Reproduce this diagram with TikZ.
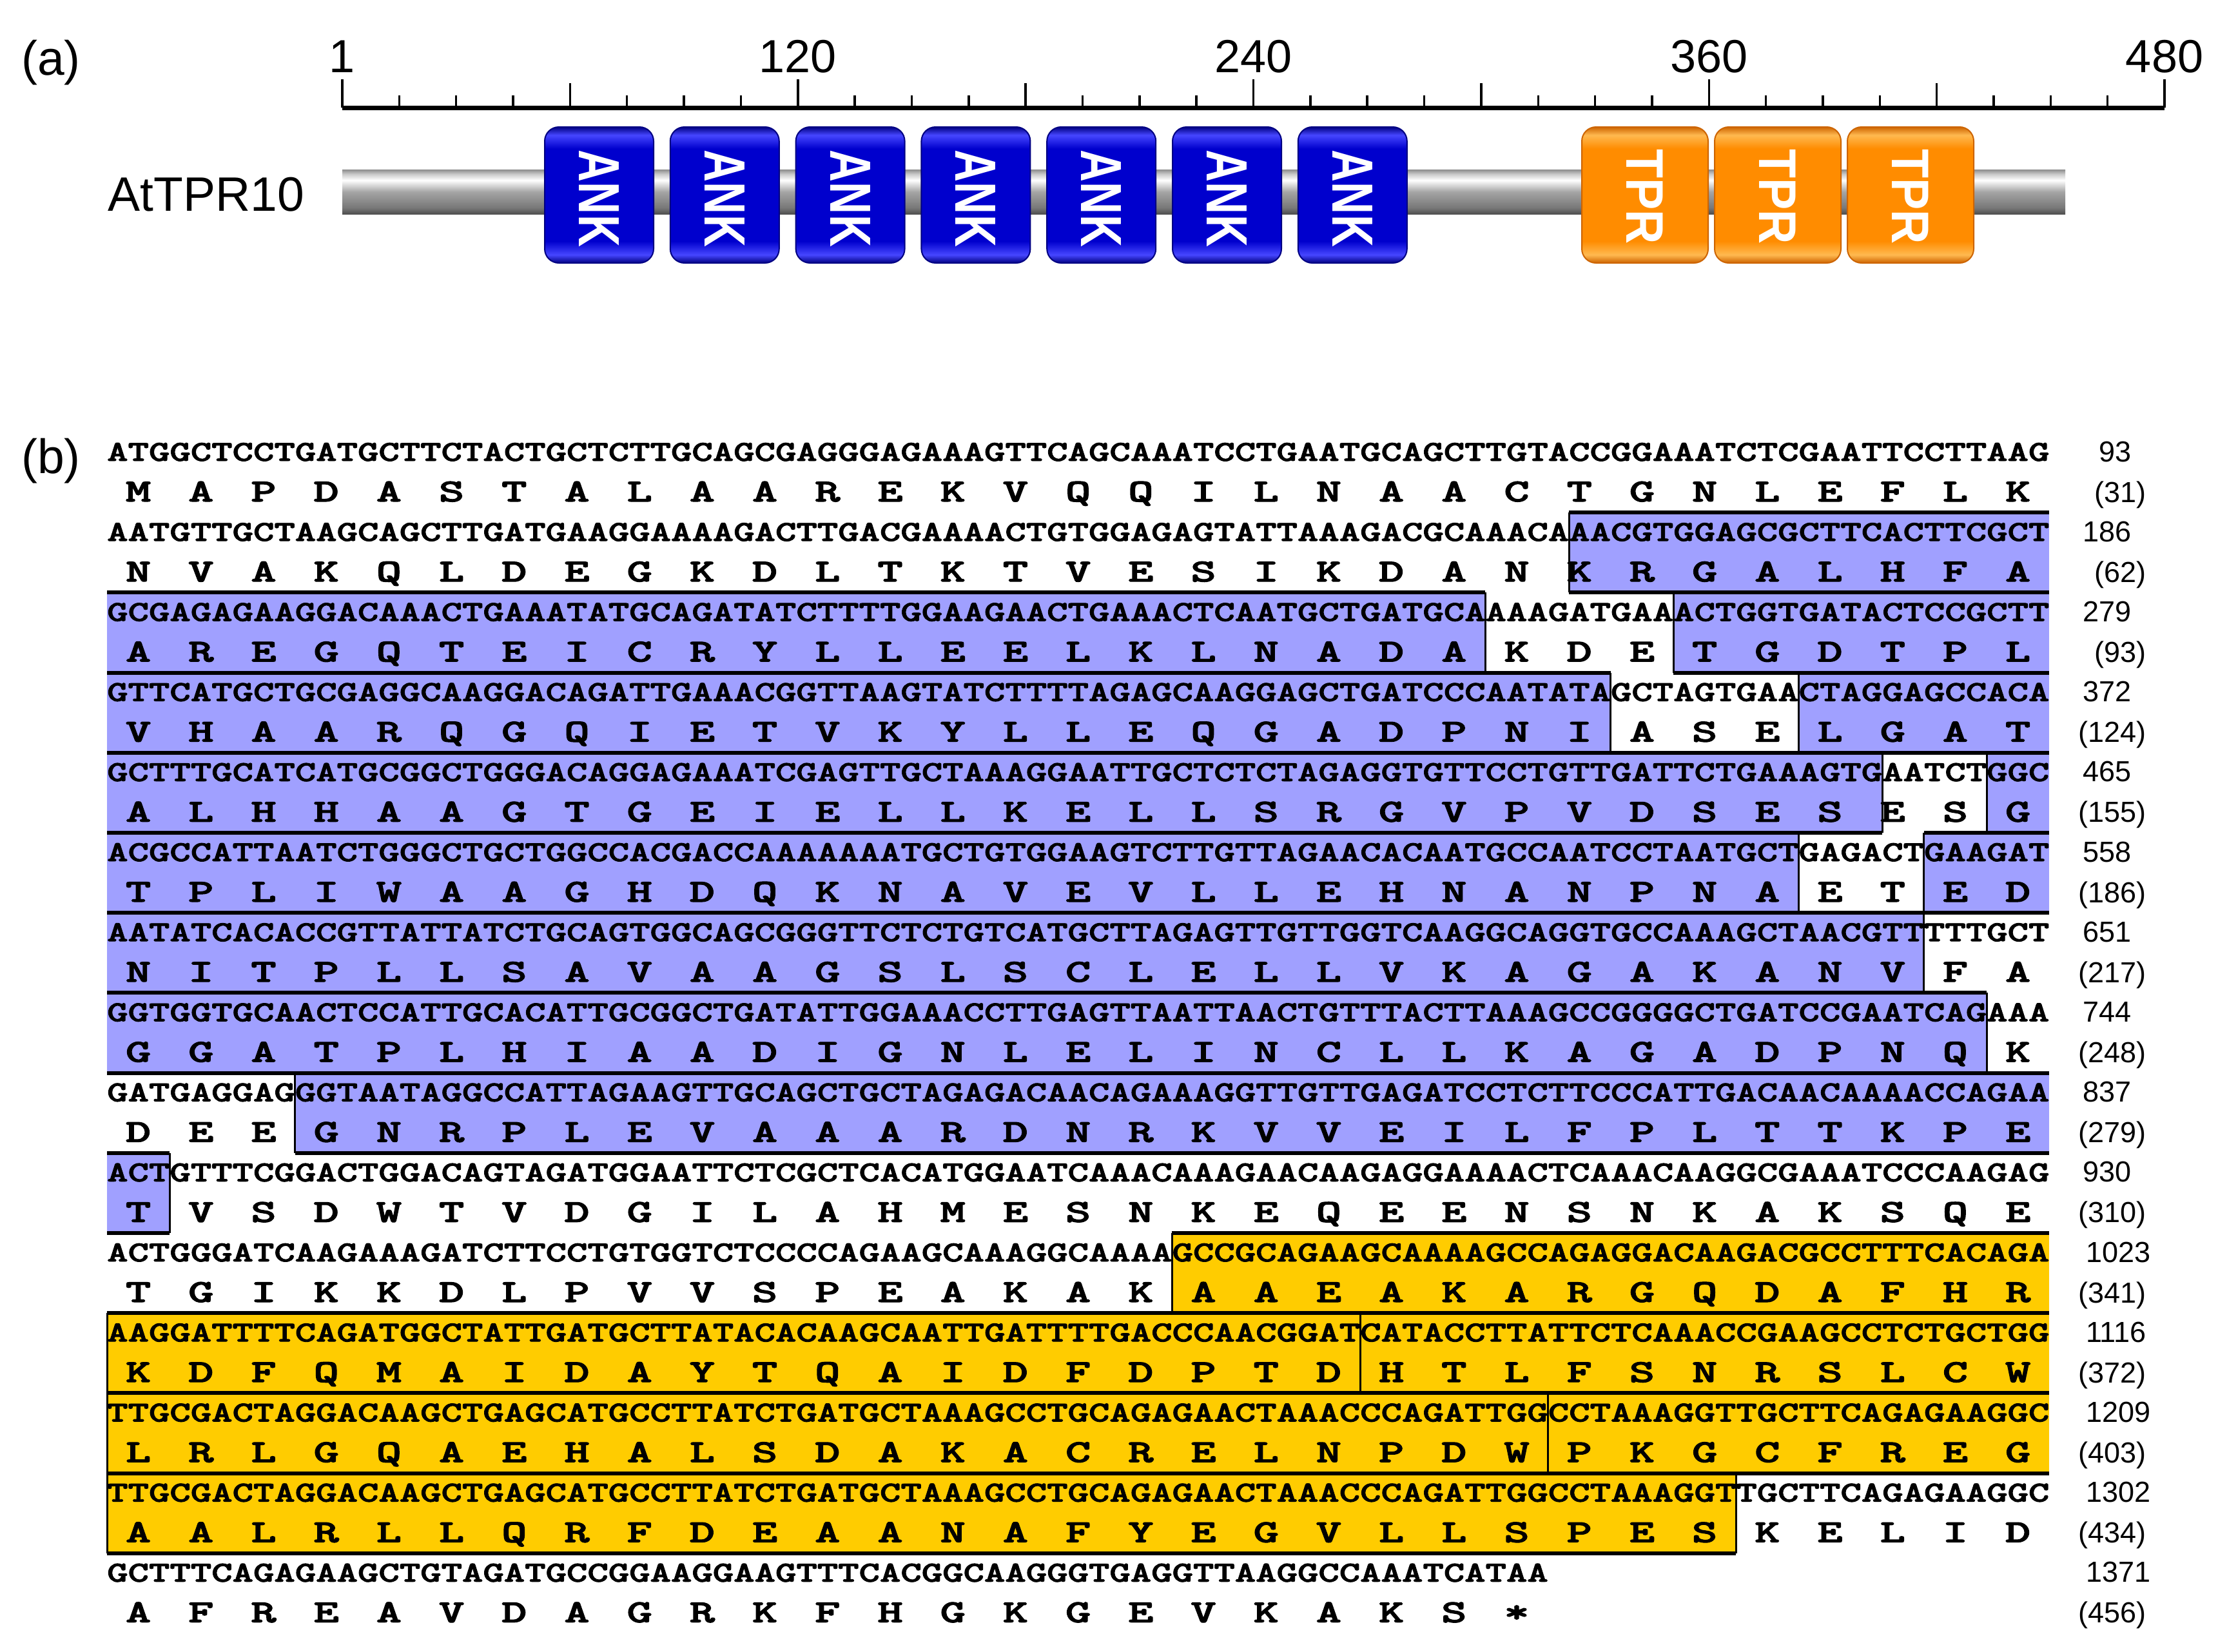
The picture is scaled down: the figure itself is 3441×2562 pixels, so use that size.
\documentclass[tikz,border=0pt]{standalone}
\usepackage{fontspec}
\setmainfont{Liberation Sans}
\newfontfamily\seqfont{lmmonolt10-bold}[Extension=.otf, FakeBold=2]
\usepackage{graphicx}
\definecolor{ankfill}{RGB}{160,160,255}
\definecolor{tprfill}{RGB}{255,204,0}
\definecolor{ankmain}{RGB}{0,0,205}
\definecolor{ankhi}{RGB}{70,70,255}
\definecolor{ankdk}{RGB}{0,0,130}
\definecolor{tprmain}{RGB}{255,140,0}
\definecolor{tprhi}{RGB}{255,185,80}
\definecolor{tprdk}{RGB}{205,100,0}
\definecolor{barA}{RGB}{80,80,80}
\definecolor{barB}{RGB}{120,120,120}
\definecolor{barC}{RGB}{165,165,165}
\definecolor{barD}{RGB}{200,200,200}
\definecolor{barE}{RGB}{140,140,140}
\pgfdeclareverticalshading{barshade}{100bp}{color(0bp)=(barA); color(25bp)=(barA); color(32bp)=(barB); color(50bp)=(barC); color(63bp)=(white); color(70bp)=(barD); color(75bp)=(barE); color(100bp)=(barE)}
\pgfdeclareverticalshading{ankshade}{100bp}{color(0bp)=(ankdk); color(25bp)=(ankdk); color(28bp)=(ankhi); color(33bp)=(ankmain); color(67bp)=(ankmain); color(72bp)=(ankhi); color(75bp)=(ankdk); color(100bp)=(ankdk)}
\pgfdeclareverticalshading{tprshade}{100bp}{color(0bp)=(tprdk); color(25bp)=(tprdk); color(28bp)=(tprhi); color(33bp)=(tprmain); color(67bp)=(tprmain); color(72bp)=(tprhi); color(75bp)=(tprdk); color(100bp)=(tprdk)}
\begin{document}
\begin{tikzpicture}[x=1pt,y=-1pt,
  panel/.style={inner sep=0pt, font=\fontsize{75}{80}\selectfont},
  rulab/.style={inner sep=0pt, anchor=base, font=\fontsize{72}{80}\selectfont},
  rulertick/.style={line width=3.5pt},
  ankbox/.style={shade, shading=ankshade, draw=ankdk, line width=2pt, rounded corners=22pt, minimum width=169pt, minimum height=211pt, inner sep=0pt},
  tprbox/.style={shade, shading=tprshade, draw=tprdk, line width=2pt, rounded corners=22pt, minimum width=196pt, minimum height=211pt, inner sep=0pt},
  boxtext/.style={rotate=-90, text=white, inner sep=0pt, font=\bfseries\fontsize{90}{90}\selectfont},
  ntrow/.style={anchor=base west, inner sep=0pt, font=\seqfont},
  aarow/.style={anchor=base, inner sep=0pt, font=\seqfont\fontsize{50}{50}\selectfont},
  numlab/.style={inner sep=0pt, font=\fontsize{45}{45}\selectfont},
  hline/.style={line width=6pt},
  vline/.style={line width=3pt}
]
\fill[white] (0,0) rectangle (3441,2562);
\useasboundingbox (0,0) rectangle (3441,2562);

% ---------------- (a) ----------------
\node[panel, anchor=west] (la) at (33,97) {(a)};
\node[panel] (pname) at (320,302) {AtTPR10};

% ruler
\draw[line width=7pt] (531,167) -- (3358,167);
\foreach \u in {0,15,...,480} \draw[rulertick] ({531+5.8896*\u},167) -- ({531+5.8896*\u},148);
\foreach \u in {60,180,300,420} \draw[rulertick] ({531+5.8896*\u},167) -- ({531+5.8896*\u},129);
\foreach \u/\t in {0/1,120/120,240/240,360/360,480/480} {
  \draw[rulertick] ({531+5.8896*\u},167) -- ({531+5.8896*\u},123);
  \node[rulab] (r\u) at ({531+5.8896*\u},112) {\t};
}

% backbone
\shade[shading=barshade] (531,263) rectangle (3204,332);

% ANK domains
\foreach \i in {0,...,6} {
  \node[ankbox] (ank\i) at ({929.5+194.8*\i},302.5) {};
  \node[boxtext] (ankt\i) at ({929.5+194.8*\i},308) {\scalebox{0.77}[1]{ANK}};
}
% TPR domains
\foreach \i/\xx in {0/2552,1/2758,2/2964} {
  \node[tprbox] (tpr\i) at (\xx,302.5) {};
  \node[boxtext, font=\bfseries\fontsize{82}{82}\selectfont] (tprt\i) at (\xx,305) {\scalebox{0.9}[1]{TPR}};
}

% ---------------- (b) ----------------
\node[panel, anchor=west] (lb) at (33,715) {(b)};

\def\seglist{1/70/93/ankfill,2/0/66/ankfill,2/75/93/ankfill,3/0/72/ankfill,3/81/93/ankfill,4/0/85/ankfill,4/90/93/ankfill,5/0/81/ankfill,5/87/93/ankfill,6/0/87/ankfill,7/0/90/ankfill,8/9/93/ankfill,9/0/3/ankfill,10/51/93/tprfill,11/0/60/tprfill,11/60/93/tprfill,12/0/69/tprfill,12/69/93/tprfill,13/0/78/tprfill}
\foreach \k/\na/\nb/\col in \seglist
  \fill[fill=\col] ({166+32.4*\na},{671+124.2*\k}) rectangle ({166+32.4*\nb},{795.2+124.2*\k});
\foreach \k/\na/\nb/\col in \seglist {
  \draw[hline] ({166+32.4*\na},{671+124.2*\k}) -- ({166+32.4*\nb},{671+124.2*\k});
  \draw[hline] ({166+32.4*\na},{795.2+124.2*\k}) -- ({166+32.4*\nb},{795.2+124.2*\k});
}
\foreach \k/\n in {1/70,2/66,2/75,3/72,3/81,4/85,4/90,5/81,5/87,6/87,7/90,8/9,9/3,10/51,11/60,12/69,13/78,11/0,12/0,13/0}
  \draw[vline] ({166+32.4*\n},{671+124.2*\k}) -- ({166+32.4*\n},{795.2+124.2*\k});

% nucleotide rows
\foreach \k/\s/\w in {
0/ATGGCTCCTGATGCTTCTACTGCTCTTGCAGCGAGGGAGAAAGTTCAGCAAATCCTGAATGCAGCTTGTACCGGAAATCTCGAATTCCTTAAG/3013.2pt,
1/AATGTTGCTAAGCAGCTTGATGAAGGAAAAGACTTGACGAAAACTGTGGAGAGTATTAAAGACGCAAACAAACGTGGAGCGCTTCACTTCGCT/3013.2pt,
2/GCGAGAGAAGGACAAACTGAAATATGCAGATATCTTTTGGAAGAACTGAAACTCAATGCTGATGCAAAAGATGAAACTGGTGATACTCCGCTT/3013.2pt,
3/GTTCATGCTGCGAGGCAAGGACAGATTGAAACGGTTAAGTATCTTTTAGAGCAAGGAGCTGATCCCAATATAGCTAGTGAACTAGGAGCCACA/3013.2pt,
4/GCTTTGCATCATGCGGCTGGGACAGGAGAAATCGAGTTGCTAAAGGAATTGCTCTCTAGAGGTGTTCCTGTTGATTCTGAAAGTGAATCTGGC/3013.2pt,
5/ACGCCATTAATCTGGGCTGCTGGCCACGACCAAAAAAATGCTGTGGAAGTCTTGTTAGAACACAATGCCAATCCTAATGCTGAGACTGAAGAT/3013.2pt,
6/AATATCACACCGTTATTATCTGCAGTGGCAGCGGGTTCTCTGTCATGCTTAGAGTTGTTGGTCAAGGCAGGTGCCAAAGCTAACGTTTTTGCT/3013.2pt,
7/GGTGGTGCAACTCCATTGCACATTGCGGCTGATATTGGAAACCTTGAGTTAATTAACTGTTTACTTAAAGCCGGGGCTGATCCGAATCAGAAA/3013.2pt,
8/GATGAGGAGGGTAATAGGCCATTAGAAGTTGCAGCTGCTAGAGACAACAGAAAGGTTGTTGAGATCCTCTTCCCATTGACAACAAAACCAGAA/3013.2pt,
9/ACTGTTTCGGACTGGACAGTAGATGGAATTCTCGCTCACATGGAATCAAACAAAGAACAAGAGGAAAACTCAAACAAGGCGAAATCCCAAGAG/3013.2pt,
10/ACTGGGATCAAGAAAGATCTTCCTGTGGTCTCCCCAGAAGCAAAGGCAAAAGCCGCAGAAGCAAAAGCCAGAGGACAAGACGCCTTTCACAGA/3013.2pt,
11/AAGGATTTTCAGATGGCTATTGATGCTTATACACAAGCAATTGATTTTGACCCAACGGATCATACCTTATTCTCAAACCGAAGCCTCTGCTGG/3013.2pt,
12/TTGCGACTAGGACAAGCTGAGCATGCCTTATCTGATGCTAAAGCCTGCAGAGAACTAAACCCAGATTGGCCTAAAGGTTGCTTCAGAGAAGGC/3013.2pt,
13/TTGCGACTAGGACAAGCTGAGCATGCCTTATCTGATGCTAAAGCCTGCAGAGAACTAAACCCAGATTGGCCTAAAGGTTGCTTCAGAGAAGGC/3013.2pt,
14/GCTTTCAGAGAAGCTGTAGATGCCGGAAGGAAGTTTCACGGCAAGGGTGAGGTTAAGGCCAAATCATAA/2235.6pt}
  \node[ntrow] (nt\k) at (166,{715+124.2*\k}) {\resizebox{\w}{28pt}{\s}};

% amino-acid rows
\foreach \ch [count=\i] in {M,A,P,D,A,S,T,A,L,A,A,R,E,K,V,Q,Q,I,L,N,A,A,C,T,G,N,L,E,F,L,K}
  \node[aarow] (aa0-\i) at ({166+32.4*(3*\i-1.5)},778) {\scalebox{1.5}[1]{\ch}};
\foreach \ch [count=\i] in {N,V,A,K,Q,L,D,E,G,K,D,L,T,K,T,V,E,S,I,K,D,A,N,K,R,G,A,L,H,F,A}
  \node[aarow] (aa1-\i) at ({166+32.4*(3*\i-1.5)},902.2) {\scalebox{1.5}[1]{\ch}};
\foreach \ch [count=\i] in {A,R,E,G,Q,T,E,I,C,R,Y,L,L,E,E,L,K,L,N,A,D,A,K,D,E,T,G,D,T,P,L}
  \node[aarow] (aa2-\i) at ({166+32.4*(3*\i-1.5)},1026.4) {\scalebox{1.5}[1]{\ch}};
\foreach \ch [count=\i] in {V,H,A,A,R,Q,G,Q,I,E,T,V,K,Y,L,L,E,Q,G,A,D,P,N,I,A,S,E,L,G,A,T}
  \node[aarow] (aa3-\i) at ({166+32.4*(3*\i-1.5)},1150.6) {\scalebox{1.5}[1]{\ch}};
\foreach \ch [count=\i] in {A,L,H,H,A,A,G,T,G,E,I,E,L,L,K,E,L,L,S,R,G,V,P,V,D,S,E,S,E,S,G}
  \node[aarow] (aa4-\i) at ({166+32.4*(3*\i-1.5)},1274.8) {\scalebox{1.5}[1]{\ch}};
\foreach \ch [count=\i] in {T,P,L,I,W,A,A,G,H,D,Q,K,N,A,V,E,V,L,L,E,H,N,A,N,P,N,A,E,T,E,D}
  \node[aarow] (aa5-\i) at ({166+32.4*(3*\i-1.5)},1399) {\scalebox{1.5}[1]{\ch}};
\foreach \ch [count=\i] in {N,I,T,P,L,L,S,A,V,A,A,G,S,L,S,C,L,E,L,L,V,K,A,G,A,K,A,N,V,F,A}
  \node[aarow] (aa6-\i) at ({166+32.4*(3*\i-1.5)},1523.2) {\scalebox{1.5}[1]{\ch}};
\foreach \ch [count=\i] in {G,G,A,T,P,L,H,I,A,A,D,I,G,N,L,E,L,I,N,C,L,L,K,A,G,A,D,P,N,Q,K}
  \node[aarow] (aa7-\i) at ({166+32.4*(3*\i-1.5)},1647.4) {\scalebox{1.5}[1]{\ch}};
\foreach \ch [count=\i] in {D,E,E,G,N,R,P,L,E,V,A,A,A,R,D,N,R,K,V,V,E,I,L,F,P,L,T,T,K,P,E}
  \node[aarow] (aa8-\i) at ({166+32.4*(3*\i-1.5)},1771.6) {\scalebox{1.5}[1]{\ch}};
\foreach \ch [count=\i] in {T,V,S,D,W,T,V,D,G,I,L,A,H,M,E,S,N,K,E,Q,E,E,N,S,N,K,A,K,S,Q,E}
  \node[aarow] (aa9-\i) at ({166+32.4*(3*\i-1.5)},1895.8) {\scalebox{1.5}[1]{\ch}};
\foreach \ch [count=\i] in {T,G,I,K,K,D,L,P,V,V,S,P,E,A,K,A,K,A,A,E,A,K,A,R,G,Q,D,A,F,H,R}
  \node[aarow] (aa10-\i) at ({166+32.4*(3*\i-1.5)},2020) {\scalebox{1.5}[1]{\ch}};
\foreach \ch [count=\i] in {K,D,F,Q,M,A,I,D,A,Y,T,Q,A,I,D,F,D,P,T,D,H,T,L,F,S,N,R,S,L,C,W}
  \node[aarow] (aa11-\i) at ({166+32.4*(3*\i-1.5)},2144.2) {\scalebox{1.5}[1]{\ch}};
\foreach \ch [count=\i] in {L,R,L,G,Q,A,E,H,A,L,S,D,A,K,A,C,R,E,L,N,P,D,W,P,K,G,C,F,R,E,G}
  \node[aarow] (aa12-\i) at ({166+32.4*(3*\i-1.5)},2268.4) {\scalebox{1.5}[1]{\ch}};
\foreach \ch [count=\i] in {A,A,L,R,L,L,Q,R,F,D,E,A,A,N,A,F,Y,E,G,V,L,L,S,P,E,S,K,E,L,I,D}
  \node[aarow] (aa13-\i) at ({166+32.4*(3*\i-1.5)},2392.6) {\scalebox{1.5}[1]{\ch}};
\foreach \ch [count=\i] in {A,F,R,E,A,V,D,A,G,R,K,F,H,G,K,G,E,V,K,A,K,S,*}
  \node[aarow] (aa14-\i) at ({166+32.4*(3*\i-1.5)},2516.8) {\scalebox{1.5}[1]{\ch}};

% position numbers
\foreach \k/\t in {0/93,1/186,2/279,3/372,4/465,5/558,6/651,7/744,8/837,9/930}
  \node[numlab, anchor=base east] (nn\k) at (3307,{716+124.2*\k}) {\t};
\foreach \k/\t in {10/1023,11/1116,12/1209,13/1302,14/1371}
  \node[numlab, anchor=base west] (nn\k) at (3236,{716+124.2*\k}) {\t};
\foreach \k/\t in {0/31,1/62,2/93,3/124,4/155,5/186,6/217,7/248,8/279,9/310,10/341,11/372,12/403,13/434,14/456}
  \node[numlab, anchor=base east] (an\k) at (3330,{779+124.2*\k}) {(\t)};
\end{tikzpicture}
\end{document}
